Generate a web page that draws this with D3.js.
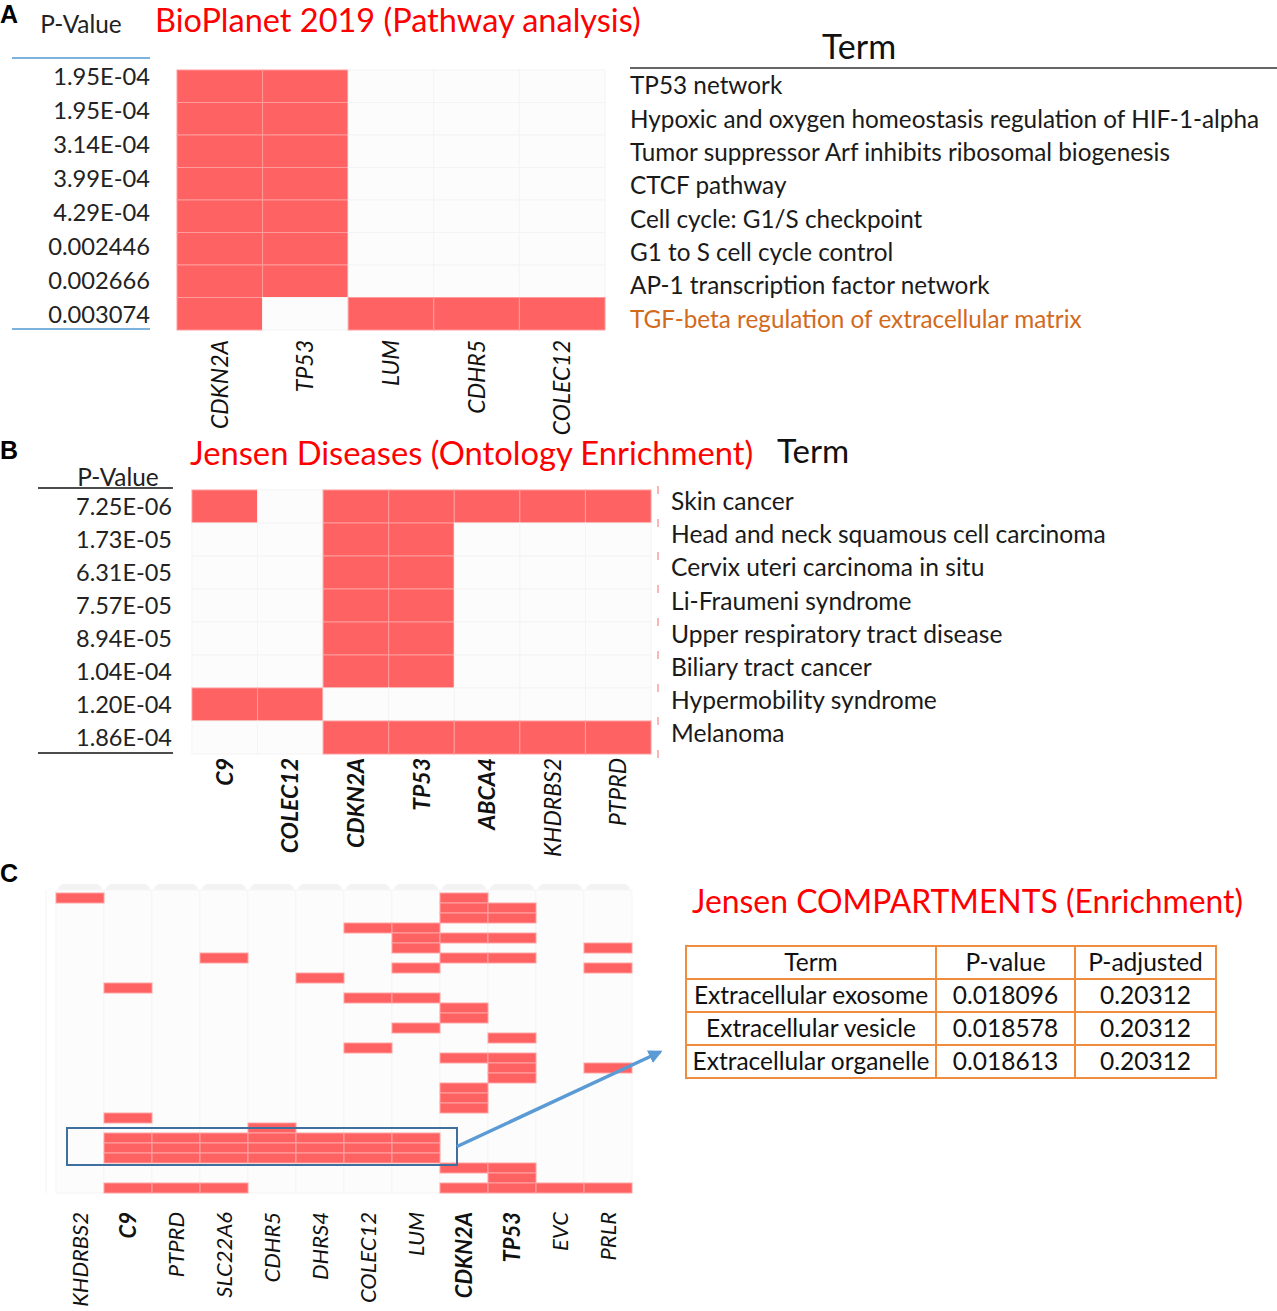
<!DOCTYPE html>
<html>
<head>
<meta charset="utf-8">
<script src="https://cdn.jsdelivr.net/npm/d3@7"></script>
<style>
  body { margin: 0; background: #fff; }
  svg { font-family: Lato, "Open Sans", sans-serif; }
</style>
</head>
<body>
<svg width="1277" height="1311"></svg>
<script>
// ---- data ----
// panel A
const genesA = ["CDKN2A", "TP53", "LUM", "CDHR5", "COLEC12"];
const pvalA = ["1.95E-04", "1.95E-04", "3.14E-04", "3.99E-04", "4.29E-04", "0.002446", "0.002666", "0.003074"];
const termsA = ["TP53 network", "Hypoxic and oxygen homeostasis regulation of HIF-1-alpha",
  "Tumor suppressor Arf inhibits ribosomal biogenesis", "CTCF pathway", "Cell cycle: G1/S checkpoint",
  "G1 to S cell cycle control", "AP-1 transcription factor network", "TGF-beta regulation of extracellular matrix"];
// gene membership per term (1 = gene in term)
const hitsA = [
  [1,1,0,0,0],[1,1,0,0,0],[1,1,0,0,0],[1,1,0,0,0],
  [1,1,0,0,0],[1,1,0,0,0],[1,1,0,0,0],[1,0,1,1,1]
];

// panel B
const genesB = ["C9", "COLEC12", "CDKN2A", "TP53", "ABCA4", "KHDRBS2", "PTPRD"];
const boldB = ["C9", "COLEC12", "CDKN2A", "TP53", "ABCA4"];
const pvalB = ["7.25E-06", "1.73E-05", "6.31E-05", "7.57E-05", "8.94E-05", "1.04E-04", "1.20E-04", "1.86E-04"];
const termsB = ["Skin cancer", "Head and neck squamous cell carcinoma", "Cervix uteri carcinoma in situ",
  "Li-Fraumeni syndrome", "Upper respiratory tract disease", "Biliary tract cancer",
  "Hypermobility syndrome", "Melanoma"];
const hitsB = [
  [1,0,1,1,1,1,1],[0,0,1,1,0,0,0],[0,0,1,1,0,0,0],[0,0,1,1,0,0,0],
  [0,0,1,1,0,0,0],[0,0,1,1,0,0,0],[1,1,0,0,0,0,0],[0,0,1,1,1,1,1]
];

// panel C: 30 compartment terms, rows containing each gene
const genesC = ["KHDRBS2", "C9", "PTPRD", "SLC22A6", "CDHR5", "DHRS4", "COLEC12", "LUM", "CDKN2A", "TP53", "EVC", "PRLR"];
const boldC = ["C9", "CDKN2A", "TP53"];
const nTermsC = 30;
const rowsC = {
  KHDRBS2: [0],
  C9: [9, 22, 24, 25, 26, 29],
  PTPRD: [24, 25, 26, 29],
  SLC22A6: [6, 24, 25, 26, 29],
  CDHR5: [23, 24, 25, 26],
  DHRS4: [8, 24, 25, 26],
  COLEC12: [3, 10, 15, 24, 25, 26],
  LUM: [3, 4, 5, 7, 10, 13, 24, 25, 26],
  CDKN2A: [0, 1, 2, 4, 6, 11, 12, 16, 19, 20, 21, 27, 29],
  TP53: [1, 2, 4, 6, 14, 16, 17, 18, 27, 28, 29],
  EVC: [29],
  PRLR: [5, 7, 17, 29]
};
const boxRowsC = [24, 26]; // highlighted extracellular terms
const tableHead = ["Term", "P-value", "P-adjusted"];
const tableRows = [
  ["Extracellular exosome", "0.018096", "0.20312"],
  ["Extracellular vesicle", "0.018578", "0.20312"],
  ["Extracellular organelle", "0.018613", "0.20312"]
];

const RED = "#ff6262";
const EMPTY = "#fcfcfc";

let svg = d3.select("svg");

// panel letters
[["A", 14], ["B", 450], ["C", 873]].forEach(d => {
  svg.append("text").attr("x", 0).attr("y", d[1]).attr("dy", "0.35em")
    .attr("font-family", "Liberation Sans, Arial, sans-serif")
    .attr("font-weight", "bold").attr("font-size", 25).text(d[0]);
});

// titles: y is baseline
function title(x, y, txt, size) {
  svg.append("text").attr("x", x).attr("y", y)
    .attr("fill", "#ff0000").attr("font-size", size).text(txt);
}

// generic heatmap
function heatmap(genes, hits, x0, x1, y0, y1, bgStroke) {
  const x = d3.scaleBand().domain(genes).range([x0, x1]);
  const y = d3.scaleBand().domain(d3.range(hits.length)).range([y0, y1]);
  const g = svg.append("g");
  const cells = [];
  hits.forEach((row, i) => row.forEach((v, j) => cells.push({ i, j, v })));
  g.selectAll("rect").data(cells).join("rect")
    .attr("x", d => x(genes[d.j]))
    .attr("y", d => y(d.i))
    .attr("width", x.bandwidth())
    .attr("height", y.bandwidth())
    .attr("fill", d => d.v ? RED : EMPTY)
    .attr("stroke", d => d.v ? "#ff9b9b" : bgStroke)
    .attr("stroke-width", 1);
  return { x, y };
}

function geneLabels(genes, x, yTop, size, bold) {
  svg.append("g").selectAll("text").data(genes).join("text")
    .attr("transform", d => `translate(${x(d) + x.bandwidth() / 2},${yTop}) rotate(-90)`)
    .attr("text-anchor", "end")
    .attr("dy", "0.35em")
    .attr("font-style", "italic")
    .attr("font-weight", d => bold.includes(d) ? "bold" : "normal")
    .attr("font-size", size)
    .attr("fill", "#111")
    .text(d => d);
}

// ---- panel A ----
title(155, 32, "BioPlanet 2019 (Pathway analysis)", 32.5);
svg.append("text").attr("x", 81).attr("y", 24).attr("dy", "0.35em")
  .attr("text-anchor", "middle").attr("font-size", 24.4).attr("fill", "#222").text("P-Value");
[58, 329].forEach(yy => svg.append("line").attr("x1", 12).attr("x2", 150).attr("y1", yy).attr("y2", yy)
  .attr("stroke", "#7eb2de").attr("stroke-width", 2));
const yPA = d3.scaleBand().domain(d3.range(pvalA.length)).range([60, 332]);
svg.append("g").selectAll("text").data(pvalA).join("text")
  .attr("x", 150).attr("y", (d, i) => yPA(i) + yPA.bandwidth() / 2).attr("dy", "0.35em")
  .attr("text-anchor", "end").attr("font-size", 23.7).attr("fill", "#222").text(d => d);

const hA = heatmap(genesA, hitsA, 177, 605, 70, 330, "#f4f4f4");
geneLabels(genesA, hA.x, 340, 23, []);

svg.append("text").attr("x", 859).attr("y", 47).attr("dy", "0.35em")
  .attr("text-anchor", "middle").attr("font-size", 34).attr("fill", "#111").text("Term");
svg.append("line").attr("x1", 630).attr("x2", 1277).attr("y1", 68).attr("y2", 68)
  .attr("stroke", "#333").attr("stroke-width", 1.5);
const yTA = d3.scaleBand().domain(d3.range(termsA.length)).range([69, 336]);
svg.append("g").selectAll("text").data(termsA).join("text")
  .attr("x", 630).attr("y", (d, i) => yTA(i) + yTA.bandwidth() / 2).attr("dy", "0.35em")
  .attr("font-size", 24.3)
  .attr("fill", (d, i) => i === termsA.length - 1 ? "#d26a1c" : "#1a1a1a")
  .text(d => d);

// ---- panel B ----
title(190, 465, "Jensen Diseases (Ontology Enrichment)", 32.7);
svg.append("text").attr("x", 777).attr("y", 451).attr("dy", "0.35em")
  .attr("font-size", 33).attr("fill", "#111").text("Term");
svg.append("text").attr("x", 118).attr("y", 477).attr("dy", "0.35em")
  .attr("text-anchor", "middle").attr("font-size", 24.4).attr("fill", "#222").text("P-Value");
[488, 753].forEach(yy => svg.append("line").attr("x1", 38).attr("x2", 173).attr("y1", yy).attr("y2", yy)
  .attr("stroke", "#111").attr("stroke-width", 1.5));
const hB = heatmap(genesB, hitsB, 192, 651, 490, 754, "#f4f4f4");
svg.append("g").selectAll("text").data(pvalB).join("text")
  .attr("x", 172).attr("y", (d, i) => hB.y(i) + hB.y.bandwidth() / 2).attr("dy", "0.35em")
  .attr("text-anchor", "end").attr("font-size", 23.5).attr("fill", "#222").text(d => d);
// faint red ticks on the right edge
svg.append("g").selectAll("line").data(d3.range(pvalB.length + 1)).join("line")
  .attr("x1", 658).attr("x2", 658)
  .attr("y1", i => 490 + i * hB.y.bandwidth() - 4).attr("y2", i => 490 + i * hB.y.bandwidth() + 4)
  .attr("stroke", "#f7a0a0").attr("stroke-width", 1.5);
geneLabels(genesB, hB.x, 758, 23, boldB);
const yTB = d3.scaleBand().domain(d3.range(termsB.length)).range([485, 750]);
svg.append("g").selectAll("text").data(termsB).join("text")
  .attr("x", 671).attr("y", (d, i) => yTB(i) + yTB.bandwidth() / 2).attr("dy", "0.35em")
  .attr("font-size", 24.6).attr("fill", "#1a1a1a").text(d => d);

// ---- panel C ----
const xC = d3.scaleBand().domain(genesC).range([56, 632]);
const yC = d3.scaleBand().domain(d3.range(nTermsC)).range([893, 1193]);
const gC = svg.append("g");
gC.append("line").attr("x1", 46).attr("x2", 46).attr("y1", 890).attr("y2", 1193)
  .attr("stroke", "#f2f2f2");
gC.append("rect").attr("x", 56).attr("y", 893).attr("width", 576).attr("height", 300).attr("fill", EMPTY);
// column header tabs
gC.selectAll(".tab").data(genesC).join("rect").attr("class", "tab")
  .attr("x", d => xC(d) + 2).attr("y", 884).attr("width", xC.bandwidth() - 4).attr("height", 12)
  .attr("rx", 6).attr("fill", "#f3f3f3");
gC.selectAll(".col").data(genesC).join("rect").attr("class", "col")
  .attr("x", d => xC(d)).attr("y", 890).attr("width", xC.bandwidth()).attr("height", 303)
  .attr("fill", EMPTY).attr("stroke", "#f5f5f5");
const cellsC = [];
genesC.forEach(gn => rowsC[gn].forEach(r => cellsC.push({ gene: gn, row: r })));
gC.selectAll(".hit").data(cellsC).join("rect").attr("class", "hit")
  .attr("x", d => xC(d.gene)).attr("y", d => yC(d.row))
  .attr("width", xC.bandwidth()).attr("height", yC.bandwidth())
  .attr("fill", RED).attr("stroke", "#ffa3a3").attr("stroke-width", 1);
geneLabels(genesC, xC, 1212, 22, boldC);

// highlight box + arrow
const bx0 = 67, bx1 = 457;
const by0 = yC(boxRowsC[0]) - 5, by1 = yC(boxRowsC[1]) + yC.bandwidth() + 2;
svg.append("rect").attr("x", bx0).attr("y", by0).attr("width", bx1 - bx0).attr("height", by1 - by0)
  .attr("fill", "none").attr("stroke", "#3f6f9e").attr("stroke-width", 2);
svg.append("defs").append("marker").attr("id", "arr")
  .attr("viewBox", "0 0 10 10").attr("refX", 8).attr("refY", 5)
  .attr("markerWidth", 4).attr("markerHeight", 4).attr("orient", "auto")
  .append("path").attr("d", "M0,0 L10,5 L0,10 z").attr("fill", "#5b9bd5");
svg.append("line").attr("x1", bx1).attr("y1", (by0 + by1) / 2).attr("x2", 660).attr("y2", 1052)
  .attr("stroke", "#5b9bd5").attr("stroke-width", 3.5).attr("marker-end", "url(#arr)");

title(692, 913, "Jensen COMPARTMENTS (Enrichment)", 31.9);
const colX = [686, 936, 1075, 1216];
const rowY = d3.scaleBand().domain(d3.range(tableRows.length + 1)).range([946, 1078]);
const tbl = svg.append("g");
const allRows = [tableHead].concat(tableRows);
allRows.forEach((row, i) => row.forEach((txt, j) => {
  tbl.append("rect").attr("x", colX[j]).attr("y", rowY(i))
    .attr("width", colX[j + 1] - colX[j]).attr("height", rowY.bandwidth())
    .attr("fill", "#fff").attr("stroke", "#f08c3e").attr("stroke-width", 2);
  tbl.append("text").attr("x", (colX[j] + colX[j + 1]) / 2).attr("y", rowY(i) + rowY.bandwidth() / 2)
    .attr("dy", "0.35em").attr("text-anchor", "middle").attr("font-size", 24.5)
    .attr("fill", "#111").text(txt);
}));
</script>
</body>
</html>
